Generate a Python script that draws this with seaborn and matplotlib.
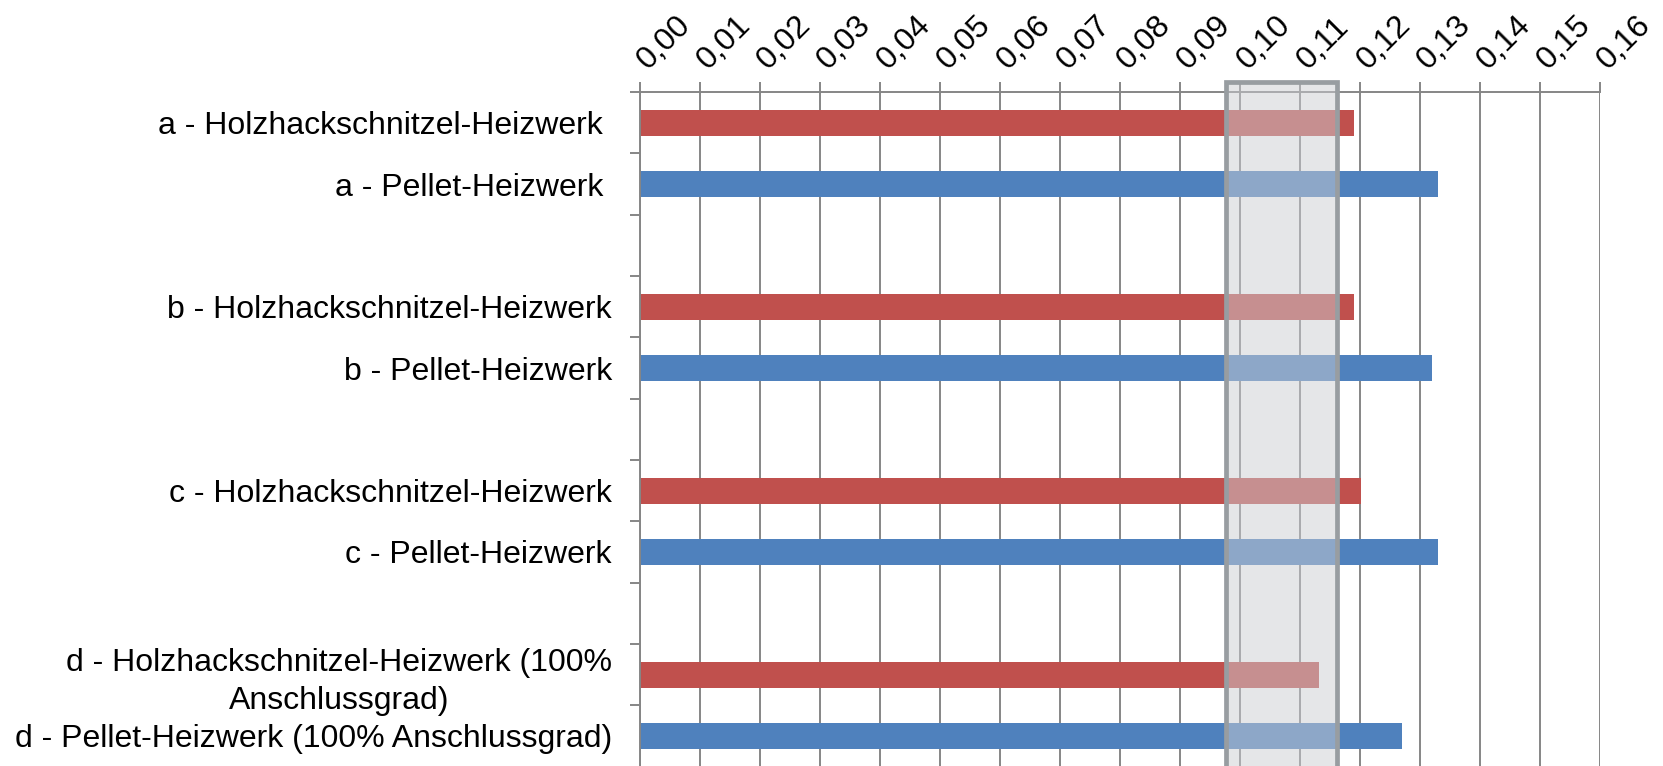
import matplotlib
matplotlib.use("Agg")
import matplotlib.pyplot as plt
import matplotlib.transforms as mtransforms
from matplotlib.patches import Rectangle
from matplotlib.ticker import FixedLocator, FuncFormatter
import seaborn as sns
import pandas as pd
import numpy as np

# ---- data ----
labels = [
    "a - Holzhackschnitzel-Heizwerk ",
    "a - Pellet-Heizwerk ",
    "b - Holzhackschnitzel-Heizwerk",
    "b - Pellet-Heizwerk",
    "c - Holzhackschnitzel-Heizwerk",
    "c - Pellet-Heizwerk",
    "d - Holzhackschnitzel-Heizwerk (100%\nAnschlussgrad)",
    "d - Pellet-Heizwerk (100% Anschlussgrad)",
]
values = [0.1191, 0.1331, 0.1191, 0.1321, 0.1202, 0.1331, 0.1132, 0.1271]
kinds = ["Holz", "Pellet", "Holz", "Pellet", "Holz", "Pellet", "Holz", "Pellet"]
# category order with empty spacer rows between groups
order = [labels[0], labels[1], " ",
         labels[2], labels[3], "  ",
         labels[4], labels[5], "   ",
         labels[6], labels[7]]
x_ticks = [0.00, 0.01, 0.02, 0.03, 0.04, 0.05, 0.06, 0.07, 0.08,
           0.09, 0.10, 0.11, 0.12, 0.13, 0.14, 0.15, 0.16]
band_range = (0.0978, 0.1162)

palette = {"Holz": "#C0504D", "Pellet": "#4F81BD"}
GRID = "#868686"

df = pd.DataFrame({"label": labels, "value": values, "kind": kinds})

sns.set_style("white")
plt.rcParams["font.family"] = ["Liberation Sans", "DejaVu Sans"]
plt.rcParams["text.color"] = "black"
plt.rcParams["xtick.labelcolor"] = "black"
plt.rcParams["ytick.labelcolor"] = "black"

fig = plt.figure(figsize=(16.63, 7.66), dpi=100)
ax = fig.add_axes([0.3847, -0.0008, 0.5772, 0.8806])

sns.barplot(data=df, y="label", x="value", hue="kind", order=order,
            palette=palette, dodge=False, width=0.424, saturation=1,
            legend=False, linewidth=0, ax=ax, zorder=2)

ax.set_xlim(0, 0.16)
ax.set_ylim(len(order) - 0.5, -0.5)
ax.set_xlabel("")
ax.set_ylabel("")

# x axis on top
ax.xaxis.tick_top()
ax.xaxis.set_major_locator(FixedLocator(x_ticks))
ax.xaxis.set_major_formatter(FuncFormatter(lambda v, p: f"{v:.2f}".replace(".", ",")))
ax.tick_params(axis="x", which="major", top=True, bottom=False, length=7,
               width=1.4, color=GRID, labelsize=23, pad=9, labelcolor="black")
shift = mtransforms.ScaledTranslation(8 / 100, 0, fig.dpi_scale_trans)
for t in ax.get_xticklabels():
    t.set_rotation(45)
    t.set_ha("left")
    t.set_va("baseline")
    t.set_rotation_mode("anchor")
    t.set_transform(t.get_transform() + shift)

ax.grid(axis="x", color=GRID, linewidth=1.4, zorder=0)
ax.set_axisbelow(True)

# y axis: labels at row centers, tick marks at row boundaries
ax.yaxis.set_minor_locator(FixedLocator(np.arange(-0.5, len(order), 1.0)))
ax.tick_params(axis="y", which="major", length=0, labelsize=23, pad=20, labelcolor="black")
ax.tick_params(axis="y", which="minor", left=True, length=7, width=1.4, color=GRID)
for t in ax.get_yticklabels():
    t.set_multialignment("center")
    t.set_linespacing(1.33)

for side in ["right", "bottom"]:
    ax.spines[side].set_visible(False)
for side in ["top", "left"]:
    ax.spines[side].set_visible(True)
    ax.spines[side].set_color(GRID)
    ax.spines[side].set_linewidth(1.4)

# highlighted band
trans = mtransforms.blended_transform_factory(ax.transData, ax.transAxes)
band = Rectangle((band_range[0], -0.1), band_range[1] - band_range[0], 1.115,
                 transform=trans, facecolor=(0.80, 0.808, 0.827, 0.5),
                 edgecolor="#989DA1", linewidth=3.4, clip_on=False, zorder=5)
ax.add_patch(band)

fig.savefig("out.png", dpi=100)
